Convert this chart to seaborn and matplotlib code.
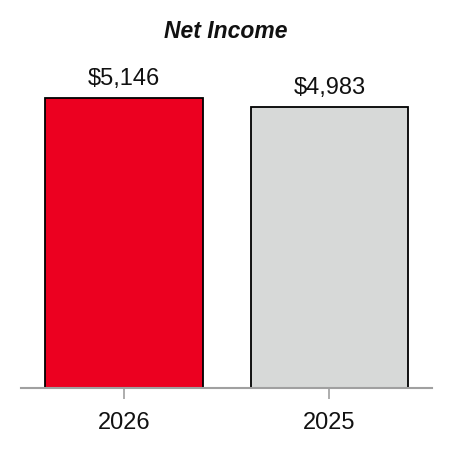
import matplotlib
matplotlib.use("Agg")
import matplotlib.pyplot as plt
import seaborn as sns
import pandas as pd

categories = ["2026", "2025"]
values = [5146, 4983]
labels = ["$5,146", "$4,983"]
colors = ["#EC0020", "#D7D9D8"]

sns.set_style("white")
plt.rcParams['font.family'] = ['Liberation Sans', 'DejaVu Sans']

df = pd.DataFrame({"year": categories, "value": values})

fig = plt.figure(figsize=(4.52, 4.52), dpi=100)
ax = fig.add_axes([0.0465, 0.1394, 0.9095, 0.7476])
sns.barplot(data=df, x="year", y="value", hue="year", palette=colors, legend=False,
            width=0.767, edgecolor="black", linewidth=1.3, saturation=1, ax=ax)
ax.set_xlim(-0.5, 1.5)
ax.set_ylim(0, 6000)
for i, (v, lab) in enumerate(zip(values, labels)):
    ax.annotate(lab, (i, v), xytext=(0, 6.5), textcoords="offset points",
                ha="center", va="bottom", fontsize=17, color="#111111")
for s in ["top", "right", "left"]:
    ax.spines[s].set_visible(False)
ax.spines["bottom"].set_color("#A0A0A0")
ax.spines["bottom"].set_linewidth(1.5)
ax.set_yticks([])
ax.tick_params(axis="x", bottom=True, length=8, width=1.2, color="#A0A0A0",
               labelsize=17, pad=8.5, labelcolor="#111111")
ax.set_xlabel("")
ax.set_ylabel("")
fig.text(0.5, 0.931, "Net Income", ha="center", va="center", fontsize=16.5,
         fontweight="bold", fontstyle="italic", color="#111111")
fig.savefig("out.png", dpi=100)
